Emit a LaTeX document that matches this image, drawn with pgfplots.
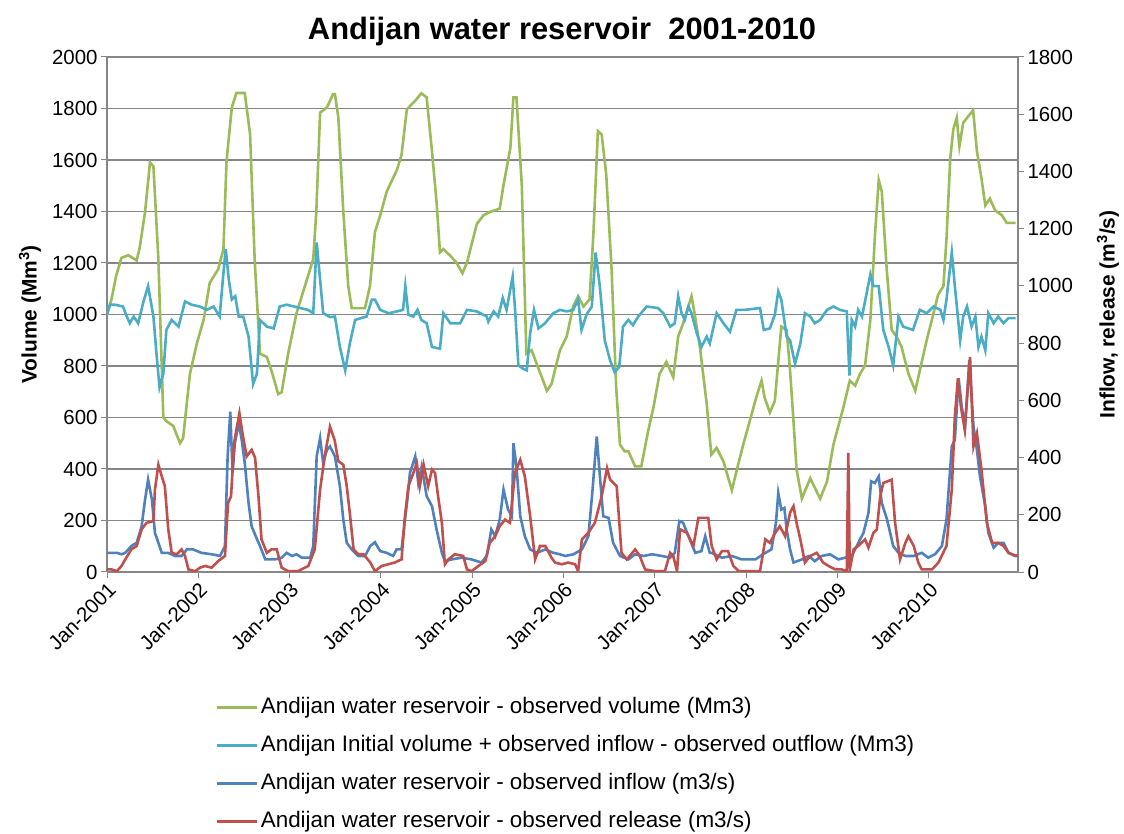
\documentclass[border=0pt]{standalone}
\usepackage{pgfplots}
\pgfplotsset{compat=1.18}
\usepackage{fontspec}
\setmainfont{Liberation Sans}
\definecolor{cgreen}{HTML}{9BBB59}
\definecolor{ccyan}{HTML}{4BACC6}
\definecolor{cblue}{HTML}{4F81BD}
\definecolor{cred}{HTML}{C0504D}
\definecolor{cgrid}{HTML}{868686}
\begin{document}
\begin{tikzpicture}
\useasboundingbox (0,0) rectangle (1124bp,834bp);
\pgfplotsset{
  base/.style={scale only axis, width=911bp, height=515bp, at={(107bp,262bp)}, anchor=south west,
    xmin=0, xmax=119.7,
    /pgf/number format/assume math mode=true,
    /pgf/number format/1000 sep={},
    tick label style={font=\fontsize{20.5}{24}\selectfont},
    tick align=outside, major tick length=6bp,
    every tick/.style={cgrid, line width=1bp},
    axis line style={cgrid, line width=1.3bp},
  }
}
\begin{axis}[base,
  axis x line*=bottom, axis y line*=left,
  ymin=0, ymax=2000, ytick={0,200,...,2000},
  ymajorgrids, grid style={cgrid, line width=1.3bp},
  xtick={0,12,...,108},
  xticklabels={Jan-2001,Jan-2002,Jan-2003,Jan-2004,Jan-2005,Jan-2006,Jan-2007,Jan-2008,Jan-2009,Jan-2010},
  xticklabel style={rotate=45, anchor=north east, inner sep=2bp},
  ylabel={\textbf{Volume (Mm\textsuperscript{3})}},
  ylabel style={at={(axis description cs:-0.0845,0.5)}, anchor=center, font=\fontsize{21}{24}\selectfont},
  title={\textbf{Andijan water reservoir\ \ 2001-2010}},
  title style={at={(axis description cs:0.4995,1.0233)}, anchor=base, yshift=0pt, font=\fontsize{31}{36}\selectfont},
]
\addplot[cgreen, line width=2.6bp] table {
x y
0 1000
0.6 1060
1.2 1150
1.9 1220
2.8 1230
3.9 1210
4.3 1260
5.0 1398
5.65 1590
6.1 1575
6.75 1215
7.4 600
7.8 586
8.7 567
9.6 500
10.0 520
10.9 770
11.8 887
12.7 980
13.5 1123
14.6 1175
15.3 1254
15.7 1594
16.4 1804
17.0 1860
18.1 1860
18.8 1700
19.4 1215
20.1 848
21.0 835
21.6 783
22.5 691
22.95 698
23.8 848
24.9 1005
26.0 1110
27.1 1215
27.5 1398
28.0 1784
28.9 1804
29.7 1856
29.95 1856
30.4 1764
31.05 1398
31.7 1110
32.15 1025
33.9 1025
34.55 1110
35.2 1320
35.9 1385
36.75 1477
38.1 1562
38.7 1620
39.4 1797
40.5 1830
41.3 1859
42.0 1843
42.7 1634
43.3 1437
43.75 1241
44.2 1254
45.1 1228
45.9 1202
46.7 1160
47.3 1202
48.6 1352
49.45 1385
50.3 1398
51.6 1411
52.1 1503
53.0 1647
53.4 1843
53.8 1843
54.5 1503
55.1 848
55.8 861
56.45 809
57.8 704
58.4 730
59.5 860
60.4 914
61.25 1031
61.9 1071
62.6 1031
63.4 1058
63.9 1306
64.5 1712
65.0 1699
65.6 1542
66.3 1175
66.9 717
67.4 495
68.0 469
68.5 469
69.4 410
70.2 410
71.1 547
71.8 639
72.6 770
73.5 816
74.4 757
75.05 914
75.7 966
76.8 1071
77.2 1005
77.9 874
78.8 652
79.4 456
80.1 482
81.0 429
82.1 318
82.7 390
83.6 495
84.7 613
85.3 678
86.0 743
86.4 678
87.1 619
87.75 665
88.6 953
89.3 940
89.75 783
90.2 586
90.6 400
91.3 285
92.4 364
93.7 285
94.6 351
95.45 495
96.75 639
97.6 743
98.3 724
98.95 770
99.6 802
100.3 979
100.9 1306
101.4 1522
101.8 1477
102.45 1175
103.1 940
103.75 914
104.4 874
105.3 770
106.2 704
106.8 783
107.7 900
108.6 1005
109.2 1077
109.9 1110
110.3 1293
110.8 1607
111.2 1719
111.65 1764
112.0 1653
112.5 1745
113.2 1771
113.8 1793
114.3 1634
114.9 1529
115.4 1424
116.0 1450
116.7 1404
117.6 1385
118.2 1356
119.4 1356
};
\addplot[ccyan, line width=2.6bp] table {
x y
0 1000
0.4 1038
1.05 1038
2.1 1031
2.6 992
3.0 966
3.5 992
4.1 966
4.8 1051
5.4 1110
6.1 992
6.5 848
6.9 717
7.4 770
7.8 940
8.5 979
9.4 953
10.25 1051
11.1 1038
12.2 1031
13.1 1018
14.0 1031
14.8 992
15.3 1162
15.6 1254
16.0 1136
16.4 1058
16.85 1071
17.3 992
17.9 992
18.6 914
19.2 730
19.7 770
20.1 979
21.0 953
21.9 946
22.7 1031
23.6 1038
25.4 1025
26.4 1018
27.1 1005
27.55 1280
28.0 1136
28.4 1005
29.3 990
29.95 992
30.6 874
31.3 783
31.9 887
32.6 979
34.1 992
34.8 1058
35.2 1058
35.9 1018
37.0 1005
38.1 1012
38.9 1018
39.2 1110
39.6 999
40.25 992
40.8 1018
41.3 979
42.0 966
42.7 874
43.75 867
44.2 1005
45.1 966
46.4 966
47.3 1018
48.6 1012
49.9 992
50.1 972
50.8 1012
51.4 992
52.0 1064
52.5 1018
53.3 1147
53.65 1005
54.05 802
54.7 789
55.15 783
55.6 927
56.1 1018
56.7 946
57.55 966
58.65 1005
59.5 1018
60.4 1012
61.25 1018
61.9 1058
62.35 940
63.0 999
63.7 1031
64.2 1241
64.75 1110
65.4 900
66.1 822
66.7 776
67.3 796
67.8 953
68.5 979
69.1 959
69.8 992
70.9 1031
72.4 1025
73.1 1005
74.0 953
74.6 966
75.05 1071
75.5 1005
75.9 979
76.4 1031
76.8 1005
77.5 927
78.1 874
78.8 914
79.2 887
80.1 1005
81.0 966
81.85 933
82.7 1018
83.8 1018
85.8 1025
86.3 940
87.1 946
87.75 999
88.2 1090
88.6 1058
89.3 914
89.75 900
90.4 809
91.1 887
91.7 1005
92.4 992
93.0 966
93.7 979
94.6 1018
95.45 1031
96.3 1018
97.2 1012
97.55 763
97.85 979
98.3 953
98.7 1018
99.2 992
99.6 1051
100.3 1156
100.7 1110
101.4 1110
102.0 940
102.7 874
103.3 802
104.0 992
104.6 953
105.3 946
105.9 940
106.8 1018
107.7 1005
108.6 1031
109.5 1018
109.9 979
110.3 1058
111.0 1241
111.4 1110
112.1 900
112.5 992
113.0 1031
113.6 953
114.1 992
114.5 874
114.9 914
115.4 861
115.8 1005
116.5 966
117.1 992
117.8 966
118.45 986
119.4 986
};
\end{axis}
\begin{axis}[base,
  axis x line=none, axis y line*=right,
  ymin=0, ymax=1800, ytick={0,200,...,1800},
  ylabel={\textbf{Inflow, release (m\textsuperscript{3}/s)}},
  ylabel style={at={(axis description cs:1.0988,0.5)}, anchor=center, font=\fontsize{21}{24}\selectfont},
  legend style={draw=none, fill=none, at={(axis description cs:0.1186,-0.2426)}, anchor=north west,
    font=\fontsize{22.5}{26}\selectfont, inner sep=0pt, row sep=17bp, column sep=3bp,
    nodes={text height=16bp, text depth=5bp, inner sep=0pt}},
  legend cell align=left,
  legend image code/.code={\draw[#1] (0bp,0bp) -- (40bp,0bp);},
]
\addlegendimage{cgreen, line width=2.6bp}
\addlegendentry{Andijan water reservoir - observed volume (Mm3)}
\addlegendimage{ccyan, line width=2.6bp}
\addlegendentry{Andijan Initial volume + observed inflow - observed outflow (Mm3)}
\addplot[cblue, line width=2.6bp] table {
x y
0 67
0.6 67
1.3 67
1.9 62
2.4 67
3.2 91
3.9 102
4.55 160
5.0 253
5.4 323
5.9 253
6.3 137
7.2 67
8.05 67
8.9 56
9.8 56
10.5 79
11.3 79
12.4 67
13.75 62
14.85 56
15.5 91
15.85 404
16.2 560
16.5 346
16.8 450
17.3 520
17.7 462
18.1 381
18.6 241
19.0 160
19.7 115
20.1 91
20.8 44
22.1 44
22.95 50
23.6 67
24.3 56
24.9 62
25.6 50
26.7 50
27.1 91
27.55 404
28.0 468
28.4 381
28.9 427
29.3 439
29.95 404
30.6 300
31.05 183
31.5 102
32.15 79
33.0 56
33.9 56
34.6 91
35.2 104
35.9 73
36.75 67
37.6 56
38.05 79
38.7 79
39.1 172
39.5 260
39.8 346
40.5 404
40.9 311
41.35 369
42.0 265
42.7 230
43.3 149
44.0 67
44.4 38
45.3 44
46.6 50
47.9 44
49.2 33
49.9 56
50.5 149
51.0 125
51.6 183
52.1 288
52.7 218
53.2 195
53.4 450
53.8 369
54.3 195
54.9 125
55.6 79
56.5 67
57.6 79
58.65 67
59.5 62
60.2 56
61.3 62
62.4 79
63.25 125
63.8 288
64.35 474
64.8 323
65.2 195
65.9 189
66.5 102
67.4 56
68.5 44
69.4 62
70.5 56
71.6 62
72.9 56
74.0 50
74.6 67
75.2 178
75.7 172
76.4 125
77.3 67
78.1 73
78.6 125
79.2 67
79.45 67
80.8 50
82.1 56
83.4 44
85.2 44
86.2 62
87.3 79
87.9 172
88.2 276
88.6 218
89.0 224
89.3 149
89.75 79
90.2 33
91.3 44
92.2 56
93.0 38
93.9 56
95.0 62
96.1 44
97.0 50
97.85 56
98.3 80
98.95 114
99.4 137
100.05 207
100.4 317
100.9 311
101.4 334
101.8 241
102.5 183
103.3 91
104.0 67
104.9 56
106.0 56
107.05 67
107.9 50
108.8 62
109.7 91
110.3 183
111.0 439
111.4 462
111.9 677
112.3 578
112.75 509
113.3 741
113.85 509
114.3 427
114.7 334
115.4 230
115.8 137
116.5 85
117.1 102
117.8 102
118.45 67
119.3 56
119.7 56
};
\addlegendentry{Andijan water reservoir - observed inflow (m3/s)}
\addplot[cred, line width=2.6bp] table {
x y
0 9
0.6 9
1.3 3
1.9 21
2.4 44
3.2 79
3.9 91
4.55 149
5.2 172
6.1 178
6.3 288
6.75 375
7.2 334
7.6 300
8.05 149
8.5 67
9.15 62
9.8 79
10.25 56
10.7 9
11.6 3
12.2 15
12.9 21
13.75 15
14.6 38
15.5 56
15.9 241
16.3 265
16.7 450
17.0 497
17.4 555
17.8 485
18.35 404
19.0 427
19.45 400
19.9 265
20.3 114
21.0 67
21.6 79
22.3 79
22.95 15
23.8 3
25.1 3
26.45 21
27.3 79
28.0 288
28.6 404
29.3 508
29.9 462
30.4 387
31.05 375
31.5 300
31.9 207
32.4 79
33.0 62
33.7 62
34.6 33
35.2 3
36.1 21
36.95 27
37.8 33
38.7 44
39.15 195
39.6 300
40.25 346
40.7 381
41.1 300
41.6 375
42.2 300
42.7 358
43.1 346
43.5 265
44.0 172
44.4 27
44.85 44
45.7 62
46.8 56
47.3 9
47.9 3
48.8 21
49.7 38
50.3 102
51.0 125
51.6 160
52.3 183
52.95 172
53.6 346
54.3 392
54.9 334
55.6 195
56.25 44
56.9 91
57.6 91
58.4 50
58.87 33
59.75 27
60.6 33
61.5 27
61.9 3
62.4 114
63.25 137
64.1 172
65.0 265
65.7 363
66.1 323
66.97 300
67.6 67
68.3 44
69.4 79
70.0 56
70.7 9
72.0 3
73.3 3
74.0 67
74.4 56
74.9 3
75.3 149
76.2 137
77.05 91
77.7 189
79.0 189
79.45 91
80.1 44
80.8 73
81.6 73
82.3 21
83.0 3
84.3 3
85.8 3
86.5 114
87.1 102
87.8 137
88.4 160
89.1 125
89.75 207
90.2 230
90.6 172
91.1 114
91.7 33
92.4 56
93.25 67
94.1 33
94.8 21
95.7 9
96.5 9
97.2 3
97.4 416
97.6 9
98.1 79
98.7 91
99.6 114
100.05 85
100.7 137
101.15 149
101.6 265
102.0 311
103.1 323
103.55 172
104.2 44
104.9 102
105.3 125
106.0 91
106.6 33
107.05 9
108.4 9
109.25 33
110.3 91
111.0 288
111.4 543
111.8 677
112.2 578
112.7 497
113.4 752
113.85 439
114.3 485
114.9 358
115.6 172
116.3 102
117.1 102
117.8 91
118.45 67
119.3 58
119.7 58
};
\addlegendentry{Andijan water reservoir - observed release (m3/s)}
\end{axis}
\end{tikzpicture}
\end{document}
